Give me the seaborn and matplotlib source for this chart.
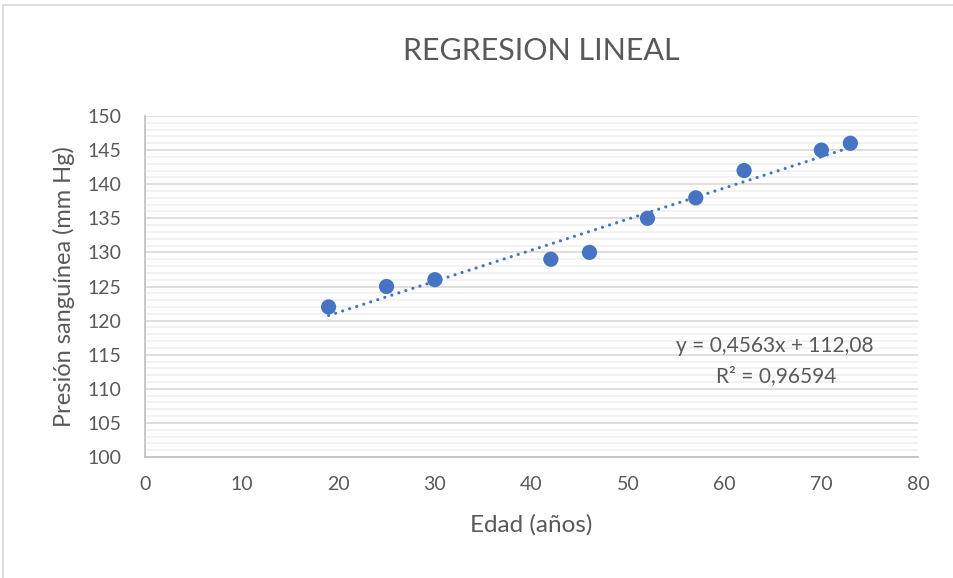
import matplotlib
matplotlib.use("Agg")
import matplotlib.pyplot as plt
from matplotlib.lines import Line2D
from matplotlib.ticker import MultipleLocator
import seaborn as sns
import pandas as pd

# Age (years) and blood pressure (mm Hg)
edad = [19, 25, 30, 42, 46, 52, 57, 62, 70, 73]
presion = [122, 125, 126, 129, 130, 135, 138, 142, 145, 146]

# Linear trend line parameters
pendiente = 0.4563
intercepto = 112.08
r2 = 0.96594

x_ticks = [0, 10, 20, 30, 40, 50, 60, 70, 80]
y_ticks = [100, 105, 110, 115, 120, 125, 130, 135, 140, 145, 150]

sns.set_style("white")
plt.rcParams["font.family"] = ["Lato", "DejaVu Sans"]

W, H = 954, 578
fig = plt.figure(figsize=(W / 100, H / 100), dpi=100)
ax = fig.add_axes([145 / W, 1 - 457 / H, (918 - 145) / W, (457 - 116) / H])

blue = "#4674C2"
txt = "#595959"

df = pd.DataFrame({"Edad": edad, "Presion": presion})

# trend line from the fitted equation
xs = [min(edad), max(edad)]
trend = pd.DataFrame({"x": xs, "y": [pendiente * v + intercepto for v in xs]})
sns.lineplot(data=trend, x="x", y="y", ax=ax, color=blue, lw=2.3,
             linestyle=(0, (0.01, 2.3)), dash_capstyle="round", zorder=3)

sns.scatterplot(data=df, x="Edad", y="Presion", ax=ax, color=blue, s=120,
                edgecolor="none", zorder=4)

ax.set_xlim(0, 80)
ax.set_ylim(100, 150)
ax.set_xticks(x_ticks)
ax.set_yticks(y_ticks)
ax.yaxis.set_minor_locator(MultipleLocator(1))

ax.grid(False)
ax.grid(axis="y", which="major", color="#d9d9d9", lw=1.2, zorder=0)
ax.grid(axis="y", which="minor", color="#f0f0f0", lw=1.2, zorder=0)
ax.set_axisbelow(True)

for s in ["top", "right"]:
    ax.spines[s].set_visible(False)
for s in ["left", "bottom"]:
    ax.spines[s].set_color("#bfbfbf")
    ax.spines[s].set_linewidth(1.2)

ax.tick_params(axis="both", which="major", length=6, width=1.2, color="#bfbfbf",
               labelsize=14, labelcolor=txt, direction="out")
ax.tick_params(axis="x", pad=8)
ax.tick_params(axis="y", pad=11)
ax.tick_params(axis="y", which="minor", length=0)

ax.set_xlabel("Edad (años)", fontsize=17.5, color=txt, labelpad=15)
ax.set_ylabel("Presión sanguínea (mm Hg)", fontsize=17, color=txt, labelpad=9)

fig.text(541 / W, 1 - 51 / H, "REGRESION LINEAL", ha="center", va="center",
         fontsize=22, color=txt)

eq = f"y = {str(pendiente).replace('.', ',')}x + {str(intercepto).replace('.', ',')}"
ax.text(775 / W, 1 - 346 / H, eq, transform=fig.transFigure,
        ha="center", va="center", fontsize=15, color=txt)
ax.text(776 / W, 1 - 376 / H, f"R² = {str(r2).replace('.', ',')}",
        transform=fig.transFigure, ha="center", va="center", fontsize=15, color=txt)

# chart area border
fig.add_artist(Line2D([3.5 / W, 3.5 / W], [0, 1 - 4.5 / H], transform=fig.transFigure,
                      color="#d9d9d9", lw=1.2))
fig.add_artist(Line2D([3.5 / W, 1], [1 - 4.5 / H, 1 - 4.5 / H], transform=fig.transFigure,
                      color="#d9d9d9", lw=1.2))

fig.savefig("out.png", dpi=100)
